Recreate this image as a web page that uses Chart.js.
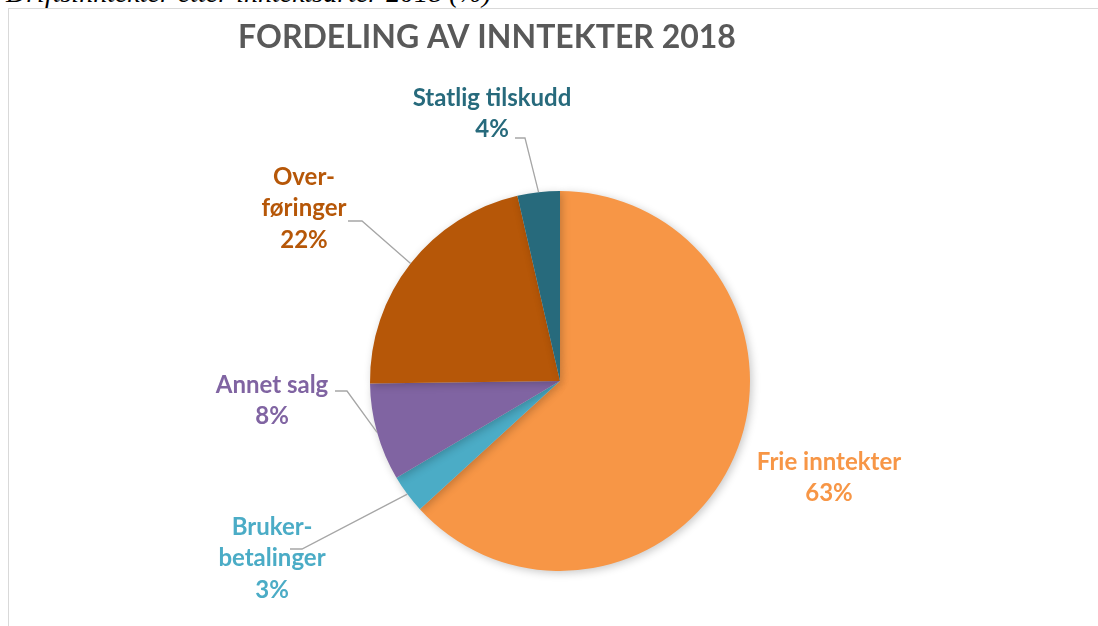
<!DOCTYPE html>
<html>
<head>
<meta charset="utf-8">
<script src="https://cdn.jsdelivr.net/npm/chart.js@4.4.1/dist/chart.umd.min.js"></script>
<style>
  html, body { margin: 0; padding: 0; background: #fff; }
  body { width: 1098px; height: 626px; position: relative; overflow: hidden; }
  #caption {
    position: absolute; left: 6px; top: -23px;
    font-family: "Liberation Serif", serif; font-style: italic; font-size: 28px;
    color: #000; white-space: nowrap;
  }
  #frame {
    position: absolute; left: 8px; top: 8px; width: 1200px; height: 700px;
    border: 1px solid #d9d9d9; box-sizing: border-box;
  }
  #wrap { position: absolute; left: 0; top: 0; width: 1098px; height: 626px; }
</style>
</head>
<body>
<div id="caption">Driftsinntekter etter inntektsarter 2018 (%)</div>
<div id="frame"></div>
<div id="wrap"><canvas id="pie"></canvas></div>
<script>
const title = "FORDELING AV INNTEKTER 2018";
const categories = ["Frie inntekter", "Bruker-betalinger", "Annet salg", "Over-føringer", "Statlig tilskudd"];
const labelLines = [["Frie inntekter"], ["Bruker-", "betalinger"], ["Annet salg"], ["Over-", "føringer"], ["Statlig tilskudd"]];
const shares = [63.2, 3.3, 8.3, 21.6, 3.6];
const colors = ["#F79646", "#4BACC6", "#8064A2", "#B65708", "#276A7C"];

// label placement (pixels): text centre x, first line y, leader start and elbow
const labelLayout = [
  { x: 829, y: 462, leader: null },
  { x: 272, y: 527, leader: [[290, 549], [302, 549]] },
  { x: 272, y: 385, leader: [[335, 391], [347, 391]] },
  { x: 304, y: 177, leader: [[348, 221], [362, 221]] },
  { x: 492, y: 98, leader: [[515, 138], [525, 138]] },
];

const FONT = "Lato, 'Open Sans', sans-serif";

const shadowPlugin = {
  id: "shadow",
  beforeDatasetsDraw(chart) {
    const ctx = chart.ctx;
    ctx.save();
    ctx.shadowColor = "rgba(0,0,0,0.22)";
    ctx.shadowBlur = 8;
    ctx.shadowOffsetX = 2;
    ctx.shadowOffsetY = 2;
  },
  afterDatasetsDraw(chart) {
    chart.ctx.restore();
  },
};

const labelPlugin = {
  id: "labels",
  afterDraw(chart) {
    const ctx = chart.ctx;
    ctx.save();
    ctx.textAlign = "center";
    ctx.textBaseline = "middle";
    ctx.fillStyle = "#595959";
    ctx.font = "bold 32px " + FONT;
    ctx.fillText(title, 487, 38);

    const meta = chart.getDatasetMeta(0);
    const total = shares.reduce((a, b) => a + b, 0);
    meta.data.forEach((arc, i) => {
      const p = arc.getProps(["x", "y", "startAngle", "endAngle", "outerRadius"], true);
      const mid = (p.startAngle + p.endAngle) / 2;
      const lay = labelLayout[i];
      if (lay.leader) {
        ctx.strokeStyle = "#a6a6a6";
        ctx.lineWidth = 1.3;
        ctx.beginPath();
        ctx.moveTo(lay.leader[0][0], lay.leader[0][1]);
        ctx.lineTo(lay.leader[1][0], lay.leader[1][1]);
        ctx.lineTo(p.x + Math.cos(mid) * p.outerRadius, p.y + Math.sin(mid) * p.outerRadius);
        ctx.stroke();
      }
      ctx.fillStyle = colors[i];
      ctx.font = "bold 24px " + FONT;
      const lines = labelLines[i].concat([Math.round(shares[i] / total * 100) + "%"]);
      lines.forEach((t, k) => ctx.fillText(t, lay.x, lay.y + k * 31.5));
    });
    ctx.restore();
  },
};

new Chart(document.getElementById("pie").getContext("2d"), {
  type: "pie",
  data: {
    labels: categories,
    datasets: [{
      data: shares,
      backgroundColor: colors,
      borderWidth: 0,
    }],
  },
  options: {
    responsive: true,
    maintainAspectRatio: false,
    animation: false,
    events: [],
    layout: { padding: { left: 370, right: 348, top: 191, bottom: 55 } },
    plugins: {
      legend: { display: false },
      title: { display: false },
      tooltip: { enabled: false },
    },
  },
  plugins: [shadowPlugin, labelPlugin],
});
</script>
</body>
</html>
